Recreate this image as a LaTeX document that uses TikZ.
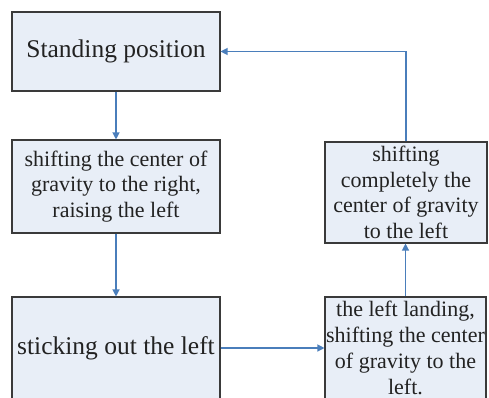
\documentclass[tikz,border=0pt]{standalone}
\usepackage{fontspec}
\setmainfont{Liberation Serif}
\usetikzlibrary{arrows.meta}
\definecolor{boxfill}{HTML}{E8EEF7}
\definecolor{boxline}{HTML}{3A3A3A}
\definecolor{arr}{HTML}{4A7EBB}
\definecolor{txt}{HTML}{222222}
\begin{document}
\begin{tikzpicture}[x=1pt,y=-1pt,
  box/.style={draw=boxline, fill=boxfill, line width=1.1pt, rectangle, inner sep=0pt, align=center, text=txt},
  big/.style={font=\fontsize{25.5}{28}\selectfont},
  small/.style={font=\fontsize{22}{25.5}\selectfont},
  link/.style={draw=arr, line width=1.2pt, -{Triangle[width=7pt,length=7pt]}}]
\useasboundingbox (0,0) rectangle (489,398);
\clip (0,0) rectangle (489,398);
\fill[white] (0,0) rectangle (489,398);
\node[box,big,minimum width=208pt,minimum height=79pt] (stand) at (116,51.5) {Standing position};
\node[box,small,minimum width=208pt,minimum height=93pt] (shift) at (116,186.5) {shifting the center of\\gravity to the right,\\raising the left};
\node[box,big,minimum width=208pt,minimum height=102pt] (stick) at (116,348) {sticking out the left};
\node[box,font=\fontsize{22}{26}\selectfont,minimum width=161pt,minimum height=102pt] (land) at (405.5,348) {the left landing,\\shifting the center\\of gravity to the\\left.};
\node[box,small,minimum width=162pt,minimum height=101pt] (comp) at (406,192.5) {shifting\\completely the\\center of gravity\\to the left};
\draw[link] (stand.south) -- (shift.north);
\draw[link] (shift.south) -- (stick.north);
\draw[link] (stick.east) -- (land.west);
\draw[link] (land.north) -- (land.north |- comp.south);
\draw[link] (comp.north) |- (stand.east);
\end{tikzpicture}
\end{document}
